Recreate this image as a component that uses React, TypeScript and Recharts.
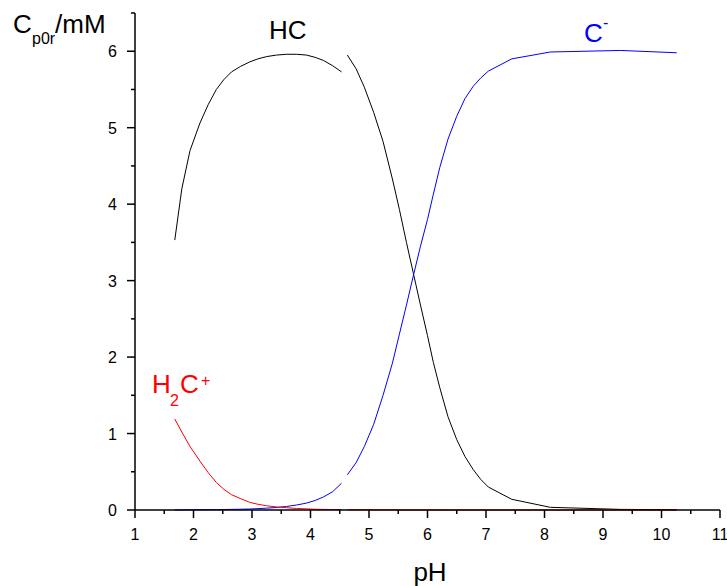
import * as React from "react"
import { Line, LineChart, XAxis, YAxis } from "recharts"

// pH points (4.58 is the break between the two runs)
const phValues = [
  1.68, 1.8, 1.94, 2.11, 2.25, 2.39, 2.52, 2.65, 2.8, 2.96, 3.1, 3.25, 3.42, 3.59, 3.76,
  3.93, 4.08, 4.22, 4.38, 4.53, 4.58, 4.63, 4.78, 4.92, 5.08, 5.24, 5.4, 5.52, 5.64, 5.76,
  5.88, 6.0, 6.1, 6.21, 6.35, 6.5, 6.64, 6.78, 6.91, 7.04, 7.44, 8.1, 9.3, 10.26,
]
const hcValues = [
  3.53, 4.2, 4.7, 5.06, 5.3, 5.5, 5.63, 5.73, 5.8, 5.86, 5.9, 5.93, 5.95, 5.96, 5.96,
  5.95, 5.92, 5.88, 5.81, 5.73, null, 5.95, 5.77, 5.53, 5.2, 4.82, 4.33, 3.93, 3.5, 3.09,
  2.68, 2.28, 1.93, 1.6, 1.22, 0.92, 0.7, 0.53, 0.4, 0.3, 0.14, 0.035, 0.008, 0.003,
]
const cMinusValues = [
  0.001, 0.001, 0.002, 0.003, 0.004, 0.005, 0.006, 0.008, 0.01, 0.013, 0.018, 0.024, 0.033, 0.046, 0.065,
  0.09, 0.125, 0.17, 0.24, 0.35, null, 0.46, 0.62, 0.83, 1.12, 1.5, 1.92, 2.3, 2.68, 3.07,
  3.45, 3.8, 4.13, 4.48, 4.85, 5.15, 5.38, 5.54, 5.65, 5.74, 5.9, 5.99, 6.01, 5.98,
]
const h2cValues = [
  1.19, 1.02, 0.83, 0.64, 0.49, 0.36, 0.27, 0.2, 0.15, 0.1, 0.075, 0.055, 0.04, 0.03, 0.02,
  0.015, 0.01, 0.008, 0.006, 0.005, null, 0.004, 0.003, 0.003, 0.002, 0.002, 0.002, 0.001, 0.001, 0.001,
  0.001, 0.001, 0.001, 0.001, 0, 0, 0, 0, 0, 0, 0, 0, 0, 0,
]

const xTicks = [1, 1.5, 2, 2.5, 3, 3.5, 4, 4.5, 5, 5.5, 6, 6.5, 7, 7.5, 8, 8.5, 9, 9.5, 10, 10.5, 11]
const yTicks = [0, 0.5, 1, 1.5, 2, 2.5, 3, 3.5, 4, 4.5, 5, 5.5, 6, 6.5]

const data = phValues.map((ph, i) => ({
  ph,
  hc: hcValues[i],
  cm: cMinusValues[i],
  h2c: h2cValues[i],
}))

const FONT = '"Liberation Sans", Arial, sans-serif'

function XTick(props: any) {
  const { x, y, payload } = props
  const major = Number.isInteger(payload.value)
  return (
    <g>
      <line x1={x} y1={y} x2={x} y2={y + (major ? 8 : 4)} stroke="#000" strokeWidth={1.5} />
      {major && (
        <text x={x} y={y + 30} textAnchor="middle" fontSize={16} fontFamily={FONT} fill="#000">
          {payload.value}
        </text>
      )}
    </g>
  )
}

function YTick(props: any) {
  const { x, y, payload } = props
  const major = Number.isInteger(payload.value)
  return (
    <g>
      <line x1={x} y1={y} x2={x - (major ? 8 : 4)} y2={y} stroke="#000" strokeWidth={1.5} />
      {major && (
        <text x={x - 18} y={y + 6} textAnchor="end" fontSize={16} fontFamily={FONT} fill="#000">
          {payload.value}
        </text>
      )}
    </g>
  )
}

export default function App() {
  return (
    <div style={{ position: "absolute", left: 0, top: 0, width: 727, height: 586, background: "#fff" }}>
      <LineChart width={727} height={586} data={data} margin={{ top: 13, right: 7, bottom: 36, left: 0 }}>
        <XAxis
          dataKey="ph"
          type="number"
          domain={[1, 11]}
          ticks={xTicks}
          interval={0}
          height={40}
          tickSize={0}
          tickMargin={0}
          tickLine={false}
          axisLine={{ stroke: "#000", strokeWidth: 1.5 }}
          tick={<XTick />}
        />
        <YAxis
          type="number"
          domain={[0, 6.5]}
          ticks={yTicks}
          interval={0}
          width={135}
          tickSize={0}
          tickMargin={0}
          tickLine={false}
          axisLine={{ stroke: "#000", strokeWidth: 1.5 }}
          tick={<YTick />}
        />
        <Line type="linear" dataKey="hc" stroke="#000000" strokeWidth={1} dot={false} isAnimationActive={false} />
        <Line type="linear" dataKey="cm" stroke="#0000ff" strokeWidth={1} dot={false} isAnimationActive={false} />
        <Line type="linear" dataKey="h2c" stroke="#ff0000" strokeWidth={1} dot={false} isAnimationActive={false} />
      </LineChart>
      <svg
        width={727}
        height={586}
        style={{ position: "absolute", left: 0, top: 0, pointerEvents: "none" }}
        fontFamily={FONT}
      >
        <text x={13} y={33} fontSize={26} fill="#000">C</text>
        <text x={32} y={44} fontSize={16} fill="#000">p0r</text>
        <text x={55} y={33} fontSize={26} fill="#000">/mM</text>
        <text x={430} y={581} fontSize={26} fill="#000" textAnchor="middle">pH</text>
        <text x={269} y={39} fontSize={26} fill="#000">HC</text>
        <text x={584} y={42} fontSize={26} fill="#0000ff">C</text>
        <text x={603} y={28} fontSize={16} fill="#0000ff">-</text>
        <text x={152} y={393} fontSize={26} fill="#ff0000">H</text>
        <text x={170} y={406} fontSize={16} fill="#ff0000">2</text>
        <text x={180} y={393} fontSize={26} fill="#ff0000">C</text>
        <text x={201} y={386} fontSize={16} fill="#ff0000">+</text>
      </svg>
    </div>
  )
}
